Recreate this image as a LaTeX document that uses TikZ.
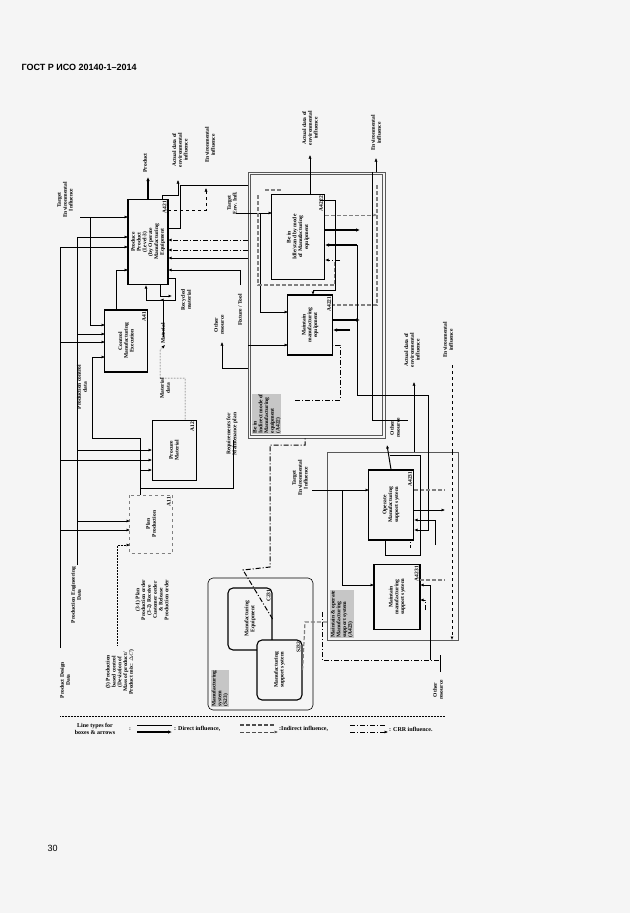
\documentclass[tikz,border=0pt]{standalone}
\usepackage{fontspec}
\newfontfamily\hdr{Liberation Sans}
\setmainfont{Liberation Serif}
\usetikzlibrary{arrows.meta}
\begin{document}
\begin{tikzpicture}[x=1pt,y=-1pt,
 txt/.style={font=\fontsize{5.5}{5.8}\selectfont\bfseries, align=center, inner sep=1pt},
 rt/.style={txt, rotate=90},
 box/.style={draw, line width=1.1pt, rotate=90, font=\fontsize{5.5}{5.8}\selectfont\bfseries, align=center, inner sep=1pt},
 rbox/.style={box, rounded corners=5pt},
 frm/.style={draw=black!65, line width=0.8pt},
 lbl/.style={rt, anchor=south east, inner sep=2pt},
 hl/.style={rt, fill=gray!45, inner sep=0.5pt, anchor=north west, align=left},
 a/.style={-{Latex[length=3.5pt,width=3pt]}, line width=0.5pt},
 ta/.style={-{Latex[length=4pt,width=3.5pt]}, line width=1.2pt},
 dsh/.style={dashed, draw=gray, line width=1.2pt, dash pattern=on 4pt off 2pt},
 crr/.style={line width=1pt, dash pattern=on 5pt off 2pt on 1pt off 2pt},
 dot/.style={densely dotted, line width=0.5pt}]
\useasboundingbox[fill=white!96!black] (0,0) rectangle (630,913);
\node[font=\hdr\fontsize{9}{10}\selectfont\bfseries, anchor=west] (hdr) at (18,67) {ГОСТ Р ИСО 20140-1–2014};
\node[font=\hdr\fontsize{9}{10}\selectfont, anchor=west] (pg) at (44,848) {30};

% level-3 boxes
\node[box, minimum width=85, minimum height=40] (a421) at (148,242) {Produce\\Product\\(Level-3)\\(by Operate\\Manufacturing\\Equipment};
\node[lbl] at (a421.south east) {A421};
\node[box, minimum width=62, minimum height=43] (a41) at (126,341) {Control\\Manufacturing\\Execution};
\node[lbl] at (a41.south east) {A41};
\node[box, line width=0.6pt, minimum width=60, minimum height=44] (a12) at (174,450) {Procure\\Material};
\node[lbl] at (a12.south east) {A12};
\node[box, line width=0.5pt, dashed, draw=gray, minimum width=58, minimum height=43] (a11) at (151,524) {Plan\\Production};
\node[lbl] at (a11.south east) {A11};

% A422
\node[frm, minimum width=137, minimum height=266] (a422) at (316.5,305) {};
\node[frm, line width=0.5pt, minimum width=132, minimum height=261] (a422i) at (316.5,305) {};
\node[box, minimum width=85, minimum height=53] (a4222) at (298,237) {Be in\\Idle/stand by mode\\of Manufacturing\\equipment};
\node[lbl] at (a4222.south east) {A4222};
\node[box, minimum width=60, minimum height=45] (a4221) at (310,325) {Maintain\\manufacturing\\equipment};
\node[lbl] at (a4221.south east) {A4221};
\node[hl] (l422) at (252,434) {Be in\\Indirect mode of\\Manufacturing\\equipment\\(A422)};

% A423
\node[frm, minimum width=131, minimum height=188] (a423) at (392.5,546) {};
\node[box, minimum width=70, minimum height=45] (op) at (391,505) {Operate\\Manufacturing\\support system};
\node[lbl] at (op.south east) {A4231};
\node[box, minimum width=65, minimum height=46] (mt) at (397,597) {Maintain\\manufacturing\\support system};
\node[lbl] at (mt.south east) {A4231};
\node[hl] (l423) at (330,638) {Maintain \& operate\\Manufacturing\\support system\\(A423)};

% S23
\node[rbox, line width=0.6pt, minimum width=132, minimum height=105] (s23) at (260.5,644) {};
\node[rbox, minimum width=62, minimum height=44] (c231) at (250,619) {Manufacturing\\Equipment};
\node[lbl] at (c231.south east) {C231};
\node[rbox, fill=white!96!black, minimum width=60, minimum height=45] (s232) at (279.5,670) {Manufacturing\\support system};
\node[lbl] at (s232.south east) {S232};
\node[hl] (l23) at (211,707) {Manufacturing\\system\\(S23)};

% left inputs
\node[rt] (pdd) at (65,680) {Product Design\\Data};
\node[rt] (ped) at (76,595) {Production Engineering\\Data};
\node[rt] (pbc) at (120,672) {(3) Production\\based control\\(Deviation of\\Mass of product/\\Product mix: $\Delta C$)};
\node[rt] (ppo) at (152,600) {(3-1) Plan\\Production order\\(3-2) Receive\\Customer order\\\& Release\\Production order};
\node[rt] (tei) at (65,200) {Target\\Environmental\\Influence};
\coordinate (c1) at (60,648);
\draw[line width=1pt] (c1) -- (60,247);
\draw[a] (60,247) -- (128,247);
\draw[a] (60,342) -- (105,342);
\draw[a] (60,460) -- (152,460);
\draw[a] (60,530) -- (130,530);
\coordinate (c2) at (77,565);
\draw (c2) -- (77,237);
\draw[a] (77,237) -- (128,237);
\draw[a] (77,334) -- (105,334);
\draw[a] (77,450) -- (152,450);
\draw[a] (77,521) -- (130,521);
\draw[a] (80,217) -- (128,217);
\draw[a] (90,217) -- (90,325) -- (105,325);
\draw[a] (116,310) -- (116,270) -- (128,270);
\draw[a, dot] (117,645) -- (117,545) -- (130,545);
\draw[a] (140,495) -- (140,438) -- (92,438) -- (92,357) -- (105,357);
\draw[a] (140,470) -- (152,470);
\node[rt] (pcd) at (82,387) {Production control\\data};
\draw (140,488) -- (233,488) -- (233,440);
\node[rt] (rmp) at (232,434) {Requirements for\\Maintenance plan};

% A421 neighbours
\node[rt] (mdt) at (165,388) {Material\\data};
\draw[dot, a] (185,420) -- (185,378) -- (160,378) -- (160,350) -- (165,345);
\node[rt, anchor=west] (mat) at (163,345) {Material};
\draw[a, line width=0.8pt] (163,337) -- (163,300) -- (146,300) -- (146,285);
\node[rt] (rec) at (186,300) {Recycled\\material};
\draw[a, line width=0.8pt] (160,285) -- (160,296) -- (172,296);
\draw[a, line width=0.8pt] (168,278) -- (175,278) -- (175,300) -- (160,300);
\node[rt] (prod) at (145,163) {Product};
\draw[ta] (a421.east) -- (148,177);
\node[rt] (ad1) at (180,150) {Actual data of\\environmental\\influence};
\draw[a] (162,200) -- (162,195) -- (178,195) -- (178,180);
\node[rt] (ei1) at (210,145) {Environmental\\influence};
\draw[a, dashed] (168,210) -- (206,210) -- (206,188);
\node[rt] (oth1) at (219,325) {Other\\resource};
\draw[a] (248,368) -- (222,368) -- (222,342);
\node[rt] (fix) at (240,310) {Fixture / Tool};
\draw[a, line width=1pt] (240,285) -- (240,270) -- (168,270);
\draw[a, line width=1pt] (248,258) -- (168,258);
\draw[a, crr] (248,250) -- (168,250);
\draw[a, crr] (248,240) -- (168,240);
\draw[line width=1pt] (168,228) -- (180,228) -- (180,185) -- (248,185);
\node[rt] (tenv) at (232,203) {Target\\Env. Infl.};
\draw[a] (236,213) -- (272,213);
\draw[a] (260,213) -- (260,312) -- (288,312);
\draw[a] (248,345) -- (288,345);

% A422 internals
\node[rt] (ad2) at (310,128) {Actual data of\\environmental\\influence};
\draw[a] (310,195) -- (310,155);
\node[rt] (ei2) at (376,133) {Environmental\\influence};
\draw[a] (376,172) -- (376,158);
\draw[dsh] (258,195) -- (258,285) -- (335,285) -- (335,260);
\draw[dsh] (265,190) -- (282,190);
\draw[dsh, a] (325,215) -- (377,215);
\draw[dsh] (377,185) -- (377,305) -- (333,305);
\draw[ta] (325,230) -- (360,230);
\draw[ta] (357,245) -- (325,245);
\draw[a, line width=1pt] (357,245) -- (357,395) -- (428,395) -- (428,530) -- (414,530);
\draw[ta] (333,320) -- (360,320);
\draw[ta] (350,330) -- (333,330);
\draw[a, line width=0.8pt] (320,200) -- (335,200) -- (335,290) -- (313,290) -- (313,295);
\draw[a, crr] (340,260) -- (325,260);
\draw[crr] (295,400) -- (340,400) -- (340,345) -- (333,345);
\draw (372,172) -- (372,420) -- (408,420);

% A423
\node[rt] (oth2) at (395,428) {Other\\resource};
\draw[a, line width=1pt] (op.east) -- (387,445);
\node[rt] (ad3) at (412,350) {Actual data of\\environmental\\influence};
\draw[a] (414,452) -- (414,382);
\node[rt] (ei3) at (448,340) {Environmental\\influence};
\draw[a, dashed, line width=0.8pt] (452,452) -- (452,364) (452,452) -- (452,640);
\node[rt] (tei2) at (300,478) {Target\\Environmental\\Influence};
\draw[a] (312,490) -- (369,490);
\draw[a] (342,490) -- (342,585) -- (374,585);
\draw[dsh] (414,490) -- (445,490) (420,580) -- (445,580);
\draw[a, line width=1pt] (435,545) -- (435,520) -- (414,520);
\draw[a, line width=0.8pt] (430,660) -- (430,585) -- (420,585);
\draw[a] (414,510) -- (445,510);
\draw (385,540) -- (385,555) -- (420,555) -- (420,455) -- (390,455);
\draw[crr] (395,540) -- (410,540) -- (410,548);
\draw[a, crr] (425,610) -- (425,600) -- (420,600);
\node[rt] (oth3) at (438,690) {Other\\resource};
\draw (440,672) -- (440,655);

% S23 links
\draw[crr] (c231.south) -- (243,570) -- (270,567) -- (270,445) -- (305,445) -- (305,438);
\draw[dsh] (s232.south) -- (305,622) -- (327,622);
\draw[crr] (322,612) -- (322,660) -- (440,660);

% legend
\draw[dot] (60,716) -- (445,716);
\node[txt, font=\fontsize{6}{6.5}\selectfont\bfseries] (lt) at (95,729) {Line types for\\boxes \& arrows};
\node[txt] (colon) at (130,729) {:};
\draw[line width=1pt] (137,725) -- (172,725);
\draw[ta] (137,732) -- (172,732);
\node[txt, font=\fontsize{6}{6.5}\selectfont\bfseries, anchor=west] (l1) at (173,729) {: Direct influence,};
\draw[dsh, draw=black!70] (240,725) -- (275,725);
\draw[dsh, draw=black!70, a] (240,732) -- (278,732);
\node[txt, font=\fontsize{6}{6.5}\selectfont\bfseries, anchor=west] (l2) at (278,729) {:Indirect influence,};
\draw[crr] (350,725) -- (385,725);
\draw[crr, a] (350,732) -- (388,732);
\node[txt, font=\fontsize{6}{6.5}\selectfont\bfseries, anchor=west] (l3) at (388,729) {: CRR influence.};
\end{tikzpicture}
\end{document}
